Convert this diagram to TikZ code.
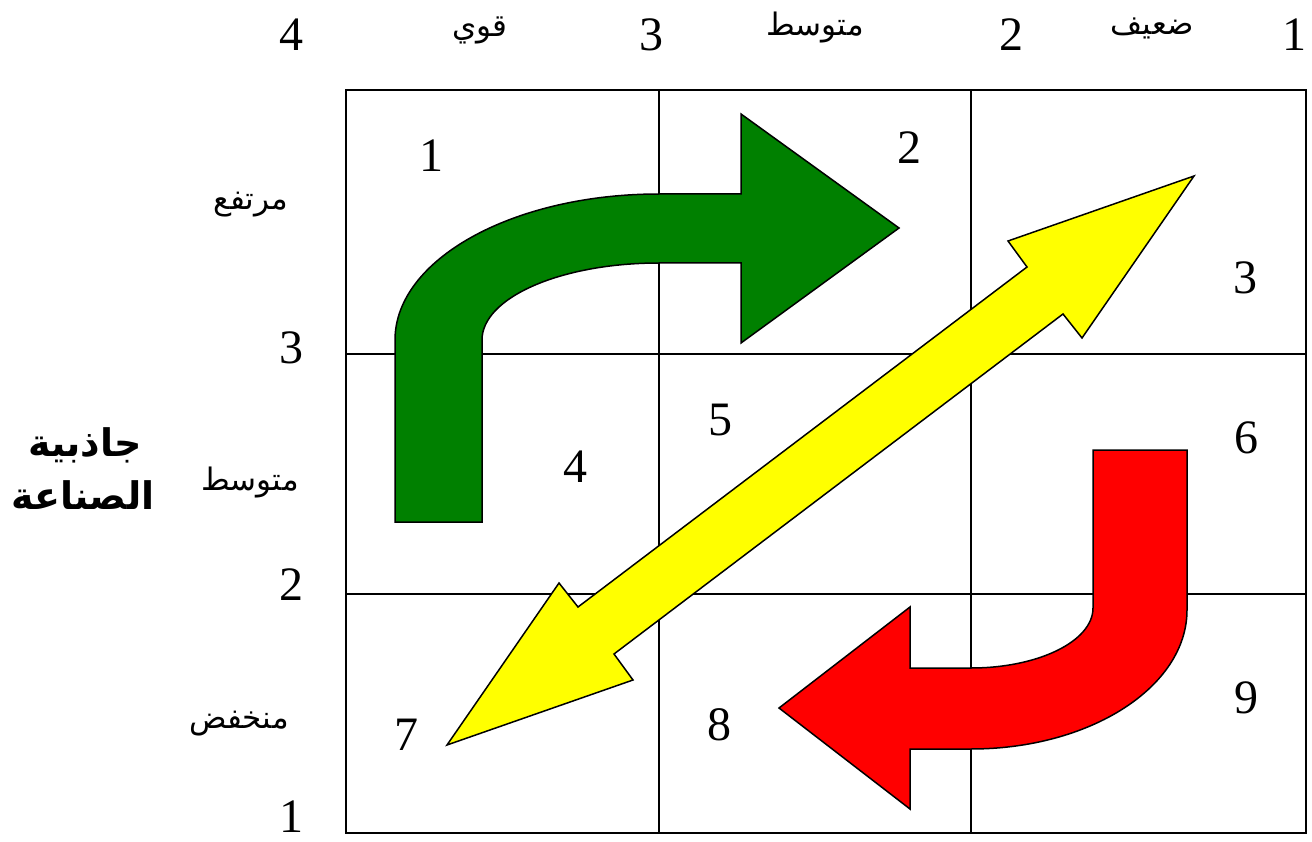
\documentclass[tikz,border=0pt]{standalone}
\usepackage{fontspec}
\setmainfont{Liberation Serif}
\newfontfamily\arabicfont[Script=Arabic]{DejaVu Sans}
\TeXXeTstate=1
\begin{document}
\begin{tikzpicture}[x=1pt,y=-1pt,
  gridline/.style={line width=2pt,black},
  shapeline/.style={line width=1.5pt,black,line join=miter},
  digit/.style={inner sep=0pt,font=\fontsize{48}{54}\selectfont},
  alabel/.style={inner sep=0pt,font=\arabicfont\fontsize{31}{36}\selectfont},
  tlabel/.style={inner sep=0pt,font=\arabicfont\bfseries\fontsize{38}{44}\selectfont}]
\definecolor{agreen}{RGB}{0,128,0}
\definecolor{ared}{RGB}{255,0,0}
\definecolor{ayellow}{RGB}{255,255,0}
\useasboundingbox (0,0) rectangle (1312,842);
% grid
\draw[gridline] (346,90) rectangle (1306,833);
\draw[gridline] (659,90) -- (659,833);
\draw[gridline] (971,90) -- (971,833);
\draw[gridline] (346,354) -- (1306,354);
\draw[gridline] (346,594) -- (1306,594);
% green bent arrow
\draw[shapeline,fill=agreen] (395,522) -- (395,340)
  arc[start angle=180,end angle=270,x radius=264,y radius=146]
  -- (741,194) -- (741,114) -- (899,228) -- (741,343) -- (741,263) -- (659,263)
  arc[start angle=270,end angle=180,x radius=177,y radius=77]
  -- (482,522) -- cycle;
% red bent arrow
\draw[shapeline,fill=ared] (1093,450) -- (1187,450) -- (1187,610)
  arc[start angle=0,end angle=90,x radius=216,y radius=139]
  -- (910,749) -- (910,809) -- (779,708) -- (910,607) -- (910,668) -- (971,668)
  arc[start angle=90,end angle=0,x radius=122,y radius=60]
  -- cycle;
% yellow double arrow
\draw[shapeline,fill=ayellow] (1194,176) -- (1008,241) -- (1027,267) -- (578,607)
  -- (559,583) -- (447,745) -- (633,680) -- (614,654) -- (1063,314) -- (1082,338) -- cycle;
% cell numbers
\node[digit] (c1) at (431,156) {1};
\node[digit] (c2) at (909,148) {2};
\node[digit] (c3) at (1245,278) {3};
\node[digit] (c4) at (575,467) {4};
\node[digit] (c5) at (720,420) {5};
\node[digit] (c6) at (1246,438) {6};
\node[digit] (c7) at (406,735) {7};
\node[digit] (c8) at (719,725) {8};
\node[digit] (c9) at (1246,698) {9};
% top axis
\node[digit] (t4) at (291,35) {4};
\node[alabel] (tq) at (480,30) {\beginR قوي\endR};
\node[digit] (t3) at (651,35) {3};
\node[alabel] (tm) at (815,28) {\beginR متوسط\endR};
\node[digit] (t2) at (1011,35) {2};
\node[alabel] (td) at (1152,28) {\beginR ضعيف\endR};
\node[digit] (t1) at (1294,35) {1};
% left axis
\node[alabel] (lh) at (251,205) {\beginR مرتفع\endR};
\node[digit] (l3) at (291,348) {3};
\node[alabel] (lm) at (250,483) {\beginR متوسط\endR};
\node[digit] (l2) at (291,585) {2};
\node[alabel] (ll) at (239,724) {\beginR منخفض\endR};
\node[digit] (l1) at (291,817) {1};
% axis title
\node[tlabel] (ax1) at (85,445) {\beginR جاذبية\endR};
\node[tlabel] (ax2) at (83,495) {\beginR الصناعة\endR};
\end{tikzpicture}
\end{document}
